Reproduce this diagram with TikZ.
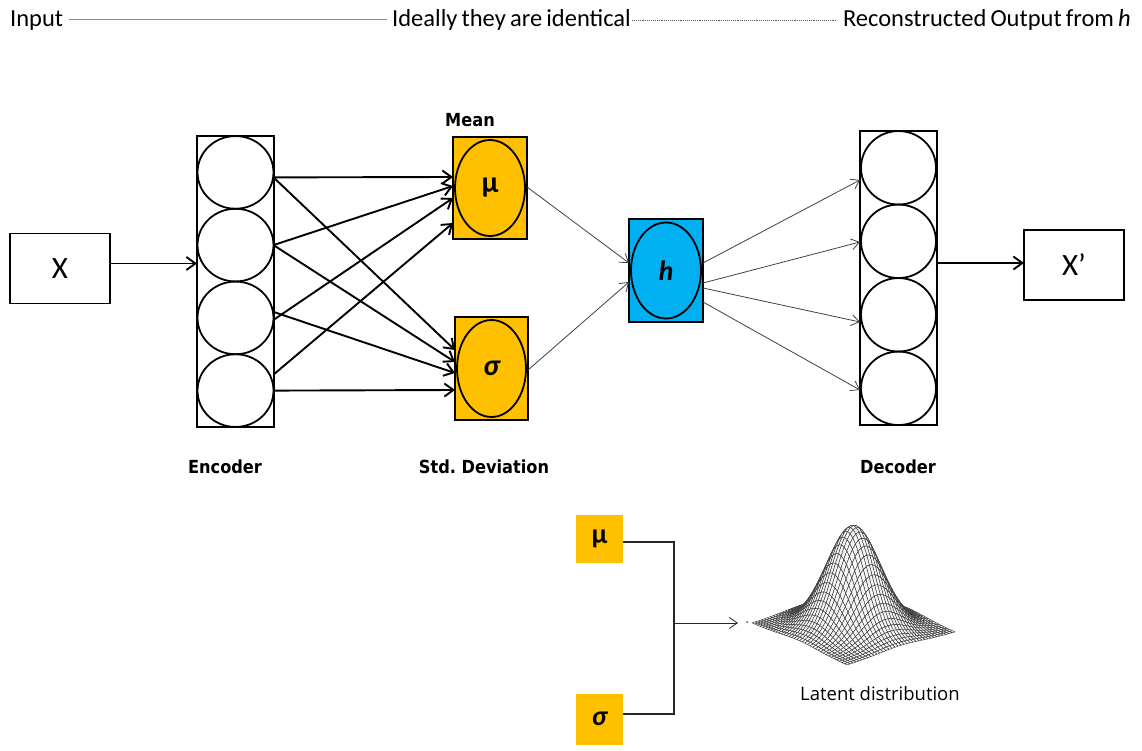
\documentclass[tikz,border=0pt]{standalone}
\usepackage{fontspec}
\setmainfont{Carlito}
\newfontfamily\lblfont[FakeStretch=0.9]{DejaVu Sans}
\newfontfamily\latfont{Open Sans}
\usetikzlibrary{arrows.meta,shapes.geometric,calc}
\definecolor{gold}{HTML}{FFC000}
\definecolor{skyb}{HTML}{00B0F0}
\newcommand\headerfont{\fontsize{24.5}{24.5}\selectfont\spaceskip=0.17em\relax}
\begin{document}
\begin{tikzpicture}[x=1pt,y=-1pt,
  box/.style={draw,line width=1.8pt,inner sep=0pt,outer sep=0pt},
  unit/.style={ellipse,draw,line width=1.8pt,inner sep=0pt,outer sep=0pt,
               minimum width=76pt,minimum height=72pt},
  bigarrow/.style={line width=1.9pt,-{Straight Barb[length=9pt,width=13pt]}},
  slimarrow/.style={line width=0.8pt,draw=black!75,-{Straight Barb[length=8pt,width=11pt]}},
  caption/.style={font=\lblfont\bfseries\fontsize{18}{18}\selectfont,inner sep=0pt,anchor=base},
  toptext/.style={font=\headerfont,inner sep=0pt},
  greek/.style={font=\bfseries\fontsize{30}{30}\selectfont},
  meshpatch/.style={fill=black!4,draw=black!82,line width=0.4pt,line join=round},
  declare function={gx(\u,\v)=853.5+47.5*\u+54*\v;
                    gy(\u,\v)=627.5+21*\u-16.5*\v-102*exp(-(\u*\u+\v*\v)/0.29);}]
\useasboundingbox (0,0) rectangle (1142,751);

% header line
\node[toptext,anchor=base west] (tin) at (10,27) {Input};
\node[toptext,anchor=base west] (tid) at (392,27) {Ideally they are identical};
\node[toptext,anchor=base east] (trec) at (1131,27) {Reconstructed Output from \textit{h}};
\draw[black!45,line width=1pt] ([xshift=6pt,yshift=7pt]tin.base east) -- ([xshift=-5pt,yshift=7pt]tid.base west);
\draw[black!65,line width=0.9pt,densely dotted] ([xshift=1pt,yshift=7pt]tid.base east) -- ([xshift=-6pt,yshift=7pt]trec.base west);

% input and output boxes
\node[box,minimum width=100pt,minimum height=70pt] (X) at (60,268.5) {\fontsize{31}{31}\selectfont X};
\node[box,minimum width=100pt,minimum height=70pt] (Xp) at (1074,265) {\fontsize{31}{31}\selectfont X’};

% encoder column
\node[box,minimum width=77pt,minimum height=291pt] (enc) at (235.5,281.5) {};
\foreach \n/\y in {1/172.4,2/245.1,3/317.9,4/390.6}
  \node[unit,minimum height=72.7pt] (e\n) at (235.5,\y) {};

% decoder column
\node[box,minimum width=77pt,minimum height=294pt] (dec) at (898.5,278) {};
\foreach \n/\y in {1/167.8,2/241.3,3/314.8,4/388.3}
  \node[unit,minimum width=75pt,minimum height=73.5pt] (d\n) at (898.5,\y) {};

% mean, deviation and latent code
\node[box,fill=gold,minimum width=74pt,minimum height=102pt] (mu) at (490,188) {};
\node[unit,fill=gold,minimum width=70pt,minimum height=96pt,greek] (muc) at (mu) {μ};
\node[box,fill=gold,minimum width=73pt,minimum height=103pt] (sig) at (491.5,368.5) {};
\node[unit,fill=gold,minimum width=69pt,minimum height=97pt,greek] (sigc) at (sig) {\itshape σ};
\node[box,fill=skyb,minimum width=74pt,minimum height=103pt] (h) at (666,270.5) {};
\node[unit,fill=skyb,minimum width=70pt,minimum height=96pt,font=\bfseries\itshape\fontsize{28}{28}\selectfont] (hc) at (h) {h};

% captions
\node[caption] (lmean) at (470,127) {Mean};
\node[caption] (lenc) at (225,473) {Encoder};
\node[caption] (lstd) at (484,473) {Std.\ Deviation};
\node[caption] (ldec) at (898,473) {Decoder};

% input -> encoder
\coordinate (xa) at ([yshift=5pt]X.east);
\draw[bigarrow] (xa) -- (xa -| enc.west);

% encoder -> mean / deviation
\draw[bigarrow] ([yshift=-5pt]e1.east) -- ([yshift=11pt]mu.west);
\draw[bigarrow] ([yshift=-5pt]e1.east) -- ([yshift=18.5pt]sig.west);
\draw[bigarrow] (e2.east) -- ([yshift=2pt]mu.west);
\draw[bigarrow] (e2.east) -- ([yshift=6.5pt]sig.west);
\draw[bigarrow] ([yshift=-2pt]e3.east) -- ([yshift=-10pt]mu.west);
\draw[bigarrow] ([yshift=6pt]e3.east) -- ([yshift=-4.5pt]sig.west);
\draw[bigarrow] ([yshift=16pt]e4.east) -- ([yshift=-35pt]mu.west);
\draw[bigarrow] (e4.east) -- ([yshift=-21.5pt]sig.west);

% mean / deviation -> h
\draw[slimarrow] ([yshift=1pt]mu.east) -- ([yshift=7.5pt]h.west);
\draw[slimarrow] ([yshift=-1.5pt]sig.east) -- ([yshift=-11.5pt]h.west);

% h -> decoder
\draw[slimarrow] ([yshift=7.5pt]h.east) -- ([yshift=98pt]dec.west);
\draw[slimarrow] ([yshift=-12.5pt]h.east) -- ([yshift=36pt]dec.west);
\draw[slimarrow] ([yshift=-17.5pt]h.east) -- ([yshift=-44pt]dec.west);
\draw[slimarrow] ([yshift=-31.5pt]h.east) -- ([yshift=-112pt]dec.west);

% decoder -> output
\coordinate (xo) at ([yshift=15pt]dec.east);
\draw[bigarrow] (xo) -- (xo -| Xp.west);

% sampling from the latent distribution
\node[fill=gold,inner sep=0pt,minimum width=47pt,minimum height=48pt,font=\bfseries\fontsize{28}{28}\selectfont] (m2) at (599.5,539) {μ};
\node[fill=gold,inner sep=0pt,minimum width=47pt,minimum height=51pt,font=\bfseries\itshape\fontsize{28}{28}\selectfont] (s2) at (599.5,719) {σ};
\coordinate (jn) at (674,623);
\coordinate (tipc) at (738,623);
\draw[line width=1.1pt,black!85] ([yshift=-3pt]m2.east) -| (jn) |- ([yshift=5pt]s2.east);
\draw[slimarrow,draw=black!85] (jn) -- (tipc);
\fill[black!70] (747,622) circle (1pt);

% Gaussian surface, painted back to front
\foreach \dd in {-35,...,35}{
  \pgfmathtruncatemacro\ilo{max(0,\dd)}
  \pgfmathtruncatemacro\ihi{min(35,35+\dd)}
  \foreach \ii in {\ilo,...,\ihi}{
    \pgfmathtruncatemacro\jj{\ii-\dd}
    \pgfmathsetmacro\ua{-1+\ii/18}
    \pgfmathsetmacro\ub{-1+(\ii+1)/18}
    \pgfmathsetmacro\va{-1+\jj/18}
    \pgfmathsetmacro\vb{-1+(\jj+1)/18}
    \filldraw[meshpatch] ({gx(\ua,\va)},{gy(\ua,\va)}) -- ({gx(\ub,\va)},{gy(\ub,\va)})
      -- ({gx(\ub,\vb)},{gy(\ub,\vb)}) -- ({gx(\ua,\vb)},{gy(\ua,\vb)}) -- cycle;
  }
}
\node[font=\latfont\fontsize{18.5}{18.5}\selectfont,inner sep=0pt,anchor=base] (ldist) at (880,700) {Latent distribution};
\end{tikzpicture}
\end{document}
